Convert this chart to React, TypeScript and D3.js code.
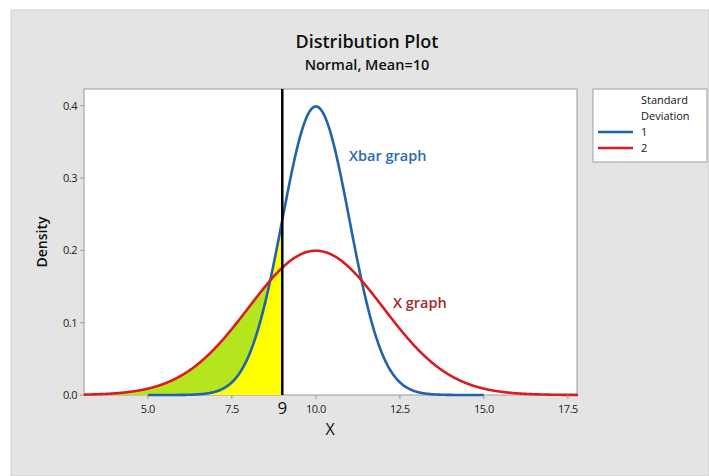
import * as d3 from 'd3';

const MEAN = 10;
const SDS = [1, 2];
const SERIES_COLORS = ['#1f62ae', '#dc1c1c'];
const SERIES_RANGES: [number, number][] = [[5, 15], [3.1, 17.8]];
const SHADE_COLORS = ['#ffff00', '#b5e61d'];
const CUTOFF = 9;
const X_TICKS = [5, 7.5, 10, 12.5, 15, 17.5];
const Y_TICKS = [0, 0.1, 0.2, 0.3, 0.4];

const FONT = '"Open Sans", "Noto Sans", sans-serif';

function pdf(x: number, mu: number, sd: number) {
  const z = (x - mu) / sd;
  return Math.exp(-0.5 * z * z) / (sd * Math.sqrt(2 * Math.PI));
}

export default function App() {
  const width = 709;
  const height = 476;
  const m = { top: 89, right: 132, bottom: 81, left: 84 };

  const x = d3.scaleLinear().domain([3.1, 17.77]).range([m.left, width - m.right]);
  const y = d3.scaleLinear().domain([0, 0.4]).range([height - m.bottom, 105.7]);

  const line = d3.line<[number, number]>().x(d => x(d[0])).y(d => y(d[1]));
  const area = d3.area<[number, number]>().x(d => x(d[0])).y0(y(0)).y1(d => y(d[1]));

  const curves = SDS.map((sd, i) => {
    const [a, b] = SERIES_RANGES[i];
    return d3.range(a, b + 0.0001, 0.02).map(v => [v, pdf(v, MEAN, sd)] as [number, number]);
  });
  const shades = SDS.map((sd, i) =>
    curves[i].filter(p => p[0] <= CUTOFF).concat([[CUTOFF, pdf(CUTOFF, MEAN, sd)]])
  );

  const plotW = width - m.left - m.right;
  const plotH = height - m.top - m.bottom;

  return (
    <svg width={width} height={height} style={{ position: 'absolute', left: 0, top: 0 }} fontFamily={FONT}>
      <rect x={0} y={0} width={width} height={height} fill="#fff" />
      <rect x={11} y={10} width={width - 11} height={height - 10} fill="#e4e4e4" stroke="#cfcfcf" />

      <text x={367} y={48} textAnchor="middle" fontSize={18} fontWeight={600} fill="#111">Distribution Plot</text>
      <text x={367} y={70} textAnchor="middle" fontSize={14.5} fontWeight={600} fill="#111">Normal, Mean=10</text>

      <rect x={m.left} y={m.top} width={plotW} height={plotH} fill="#fff" stroke="#9a9a9a" />

      {/* shaded tails: red first, blue on top */}
      <path d={area(shades[1]) ?? ''} fill={SHADE_COLORS[1]} />
      <path d={area(shades[0]) ?? ''} fill={SHADE_COLORS[0]} />

      {curves.map((c, i) => (
        <path key={i} d={line(c) ?? ''} fill="none" stroke={SERIES_COLORS[i]} strokeWidth={2.6} />
      ))}

      <line x1={x(CUTOFF)} x2={x(CUTOFF)} y1={m.top} y2={height - m.bottom} stroke="#000" strokeWidth={2.5} />

      {/* x axis */}
      {X_TICKS.map(t => (
        <g key={t} transform={`translate(${x(t)},${height - m.bottom})`}>
          <line y1={0} y2={4} stroke="#9a9a9a" />
          <text y={18} textAnchor="middle" fontSize={11} fontWeight={500} fill="#222" letterSpacing={-0.5}>{t.toFixed(1)}</text>
        </g>
      ))}
      <text x={x(CUTOFF)} y={414} textAnchor="middle" fontSize={17} fill="#111">{CUTOFF}</text>
      <text x={330} y={435} textAnchor="middle" fontSize={16} fontWeight={500} fill="#111">X</text>

      {/* y axis */}
      {Y_TICKS.map(t => (
        <g key={t} transform={`translate(${m.left},${y(t)})`}>
          <line x1={-4} x2={0} stroke="#9a9a9a" />
          <text x={-7} dy="0.35em" textAnchor="end" fontSize={11} fontWeight={500} fill="#222" letterSpacing={-0.5}>{t.toFixed(1)}</text>
        </g>
      ))}
      <text transform={`translate(47,${(m.top + height - m.bottom) / 2}) rotate(-90)`} textAnchor="middle" fontSize={14} fontWeight={600} fill="#111">Density</text>

      <text x={349} y={161} fontSize={14.5} fontWeight={600} fill="#2a6ab4">Xbar graph</text>
      <text x={393} y={308} fontSize={14.5} fontWeight={600} fill="#a02a2a">X graph</text>

      {/* legend */}
      <rect x={593} y={89} width={114} height={73} fill="#fff" stroke="#a0a0a0" />
      <text x={641} y={104} fontSize={11} fontWeight={500} fill="#111">Standard</text>
      <text x={641} y={120} fontSize={11} fontWeight={500} fill="#111">Deviation</text>
      {SDS.map((sd, i) => (
        <g key={sd} transform={`translate(0,${136 + i * 16})`}>
          <line x1={598} x2={633} y1={-4} y2={-4} stroke={SERIES_COLORS[i]} strokeWidth={2.5} />
          <text x={641} y={0} fontSize={11} fontWeight={500} fill="#111">{sd}</text>
        </g>
      ))}
    </svg>
  );
}
